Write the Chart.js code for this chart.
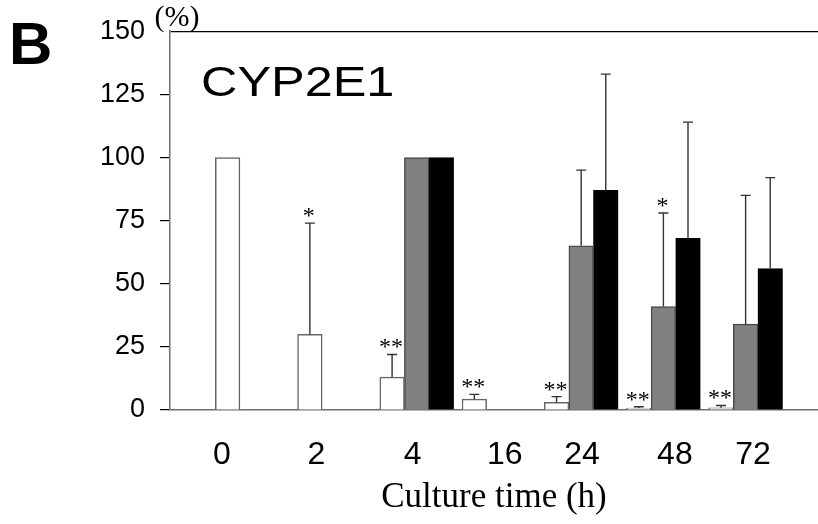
<!DOCTYPE html>
<html>
<head>
<meta charset="utf-8">
<script src="https://cdn.jsdelivr.net/npm/chart.js@4/dist/chart.umd.min.js"></script>
<style>
  html, body { margin: 0; padding: 0; background: #fff; }
  #wrap { width: 818px; height: 524px; }
</style>
</head>
<body>
<div id="wrap"><canvas id="c" width="818" height="524"></canvas></div>
<script>
// ---- data ----
const xLabels   = ['0', '2', '4', '16', '24', '48', '72'];
const whiteVals = [100, 30, 13, 4.3, 3, 0.8, 0.9];
const whiteSD   = [null, 44, 9, 1.9, 2.3, 0.5, 0.9];
const grayVals  = [null, null, 100, null, 65, 41, 34];
const graySD    = [null, null, null, null, 30, 37, 51];
const blackVals = [null, null, 100, null, 87, 68, 56];
const blackSD   = [null, null, null, null, 46, 46, 36];
const whiteStars = ['', '*', '**', '**', '**', '**', '**'];
const grayStars  = ['', '', '', '', '', '*', ''];
const blackStars = ['', '', '', '', '', '', ''];
const yTickValues = [0, 25, 50, 75, 100, 125, 150];

// ---- layout tweaks (label nudges in category units) ----
const xLabelShift = [-0.37, -0.22, -0.05, 0.07, 0.01, 0.14, 0.09];

const series = [
  { vals: whiteVals, sd: whiteSD, stars: whiteStars },
  { vals: grayVals,  sd: graySD,  stars: grayStars },
  { vals: blackVals, sd: blackSD, stars: blackStars }
];

const toPts = arr => arr.map((v, i) => ({ x: i, y: v }));

Chart.defaults.font.family = '"Liberation Sans", Arial, sans-serif';
Chart.defaults.color = '#000';

const overlay = {
  id: 'overlay',
  afterDatasetsDraw(chart) {
    const ctx = chart.ctx;
    const ys = chart.scales.y;
    ctx.save();
    series.forEach((s, di) => {
      const meta = chart.getDatasetMeta(di);
      meta.data.forEach((el, i) => {
        const v = s.vals[i];
        if (v == null) return;
        let top = el.y;
        const sd = s.sd[i];
        if (sd != null) {
          const yc = ys.getPixelForValue(v + sd);
          ctx.strokeStyle = '#333';
          ctx.lineWidth = 1.4;
          ctx.beginPath();
          ctx.moveTo(el.x, el.y);
          ctx.lineTo(el.x, yc);
          ctx.moveTo(el.x - 5, yc);
          ctx.lineTo(el.x + 5, yc);
          ctx.stroke();
          top = yc;
        }
        const st = s.stars[i];
        if (st) {
          ctx.fillStyle = '#000';
          ctx.font = '24px "Liberation Serif", serif';
          ctx.textAlign = 'center';
          ctx.textBaseline = 'alphabetic';
          ctx.fillText(st, el.x - 1, top);
        }
      });
    });
    ctx.fillStyle = '#000';
    ctx.textBaseline = 'alphabetic';
    ctx.textAlign = 'left';
    ctx.font = 'bold 60px "Liberation Sans", Arial, sans-serif';
    ctx.fillText('B', 9, 64);
    ctx.save();
    ctx.translate(201, 96);
    ctx.scale(1.2, 1);
    ctx.font = '42px "Liberation Sans", Arial, sans-serif';
    ctx.fillText('CYP2E1', 0, 0);
    ctx.restore();
    ctx.textAlign = 'center';
    ctx.font = '30px "Liberation Serif", serif';
    ctx.fillText('(%)', 177, 26);
    ctx.restore();
  }
};

new Chart(document.getElementById('c'), {
  type: 'bar',
  data: {
    datasets: [
      { label: 'white', data: toPts(whiteVals), backgroundColor: '#ffffff', borderColor: '#666666', borderWidth: 1.5 },
      { label: 'gray',  data: toPts(grayVals),  backgroundColor: '#808080', borderColor: '#4a4a4a', borderWidth: 1.5 },
      { label: 'black', data: toPts(blackVals), backgroundColor: '#000000', borderColor: '#000000', borderWidth: 1.5 }
    ]
  },
  options: {
    responsive: false,
    animation: false,
    devicePixelRatio: 1,
    layout: { padding: { top: 30, left: 0, right: 0, bottom: 0 } },
    barThickness: 24.6,
    plugins: { legend: { display: false }, tooltip: { enabled: false } },
    scales: {
      x: {
        type: 'linear',
        offset: false,
        min: -1.0,
        max: 6.88,
        grid: { display: false, drawOnChartArea: false, drawTicks: false },
        border: { display: true, color: '#707070', width: 1.5 },
        afterBuildTicks: scale => {
          scale.ticks = xLabels.map((_, i) => ({ value: i + xLabelShift[i] }));
        },
        ticks: {
          autoSkip: false,
          maxRotation: 0,
          minRotation: 0,
          padding: 26,
          font: { size: 32 },
          color: '#000',
          callback: (v, i) => xLabels[i]
        },
        title: {
          display: true,
          text: 'Culture time (h)',
          font: { family: '"Liberation Serif", "Times New Roman", serif', size: 35 },
          color: '#000',
          padding: { top: 0, bottom: 5 }
        },
        afterFit: scale => { scale.height = 114; }
      },
      y: {
        min: 0,
        max: 150,
        afterBuildTicks: scale => {
          scale.ticks = yTickValues.map(v => ({ value: v }));
        },
        grid: {
          drawOnChartArea: true,
          drawTicks: true,
          tickLength: 10,
          lineWidth: 1.2,
          color: ctx => (ctx.tick && ctx.tick.value === 150) ? '#000' : 'rgba(0,0,0,0)',
          tickColor: ctx => (ctx.tick && ctx.tick.value === 150) ? 'rgba(0,0,0,0)' : '#000'
        },
        border: { display: true, color: '#707070', width: 1.5 },
        ticks: {
          padding: 15,
          font: { size: 27 },
          color: '#000'
        },
        afterFit: scale => { scale.width = 170; }
      }
    }
  },
  plugins: [overlay]
});
</script>
</body>
</html>
